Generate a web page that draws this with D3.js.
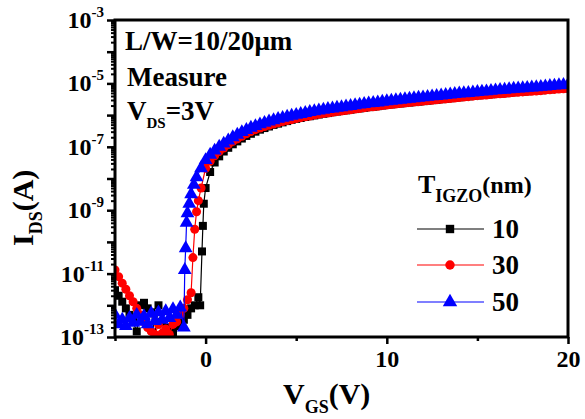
<!DOCTYPE html>
<html><head><meta charset="utf-8">
<script src="https://cdn.jsdelivr.net/npm/d3@7"></script>
<style>
html,body{margin:0;padding:0;background:#fff;}
text{font-family:"Liberation Serif","Times New Roman",serif;font-weight:bold;fill:#000;}
</style></head>
<body>
<svg id="chart" width="585" height="419"></svg>
<script>
// ---- data ----
const seriesNames = ["10", "30", "50"];
const seriesColors = ["#000000", "#ff0000", "#0000ff"];
const seriesSymbols = ["square", "circle", "triangle"];

// off / threshold region (per series)
const vgsOff10 = [-5.0,-4.8,-4.6,-4.4,-4.2,-4.0,-3.8,-3.6,-3.4,-3.2,-3.0,-2.8,-2.6,-2.4,-2.2,-2.0,-1.8,-1.6,-1.4,-1.2,-1.0,-0.8,-0.6,-0.4,-0.3,-0.2,-0.15,-0.1];
const idsOff10 = [3.0e-12,2.0e-12,1.3e-12,8.0e-13,5.0e-13,3.0e-13,1.5e-13,1.0e-12,1.2e-12,8.0e-13,6.0e-13,1.1e-13,1.0e-12,3.0e-13,1.5e-13,2.0e-13,1.3e-13,2.2e-13,2.5e-13,3.5e-13,5.0e-13,8.0e-13,1.0e-12,1.8e-12,1.0e-12,5.0e-11,3.2e-10,1.6e-9];
const vgsOff30 = [-5.0,-4.8,-4.6,-4.4,-4.2,-4.0,-3.8,-3.6,-3.4,-3.2,-3.0,-2.8,-2.6,-2.4,-2.2,-2.0,-1.8,-1.6,-1.4,-1.2,-1.0,-0.8,-0.7,-0.6,-0.5,-0.4,-0.25];
const idsOff30 = [1.3e-11,8.0e-12,5.0e-12,3.2e-12,2.0e-12,1.3e-12,8.0e-13,5.0e-13,3.0e-13,2.0e-13,1.5e-13,1.2e-13,2.5e-13,1.3e-13,1.8e-13,1.2e-13,2.5e-13,3.0e-13,5.0e-13,8.0e-13,1.5e-12,2.5e-12,3.2e-11,2.5e-10,8.9e-10,2.0e-9,5.0e-9];
const vgsOff50 = [-5.0,-4.8,-4.6,-4.4,-4.2,-4.0,-3.8,-3.6,-3.4,-3.2,-3.0,-2.8,-2.6,-2.4,-2.2,-2.0,-1.8,-1.6,-1.4,-1.2,-1.15,-1.1,-1.05,-1.0,-0.9,-0.8,-0.65,-0.5,-0.25];
const idsOff50 = [5.0e-13,2.5e-13,3.5e-13,2.2e-13,4.0e-13,2.8e-13,5.0e-13,3.0e-13,4.5e-13,2.5e-13,5.5e-13,3.2e-13,6.0e-13,3.5e-13,6.5e-13,4.0e-13,7.5e-13,5.0e-13,8.5e-13,2.0e-13,1.3e-11,6.3e-11,4.0e-10,8.0e-10,1.6e-9,3.2e-9,6.3e-9,1.1e-8,2.1e-8];

// on region (shared gate-voltage sweep)
const vgsOn = [0,0.25,0.5,0.75,1,1.25,1.5,1.75,2,2.25,2.5,2.75,3,3.25,3.5,3.75,4,4.25,4.5,4.75,5,
 5.25,5.5,5.75,6,6.25,6.5,6.75,7,7.25,7.5,7.75,8,8.25,8.5,8.75,9,9.25,9.5,9.75,10,
 10.25,10.5,10.75,11,11.25,11.5,11.75,12,12.25,12.5,12.75,13,13.25,13.5,13.75,14,14.25,14.5,14.75,15,
 15.25,15.5,15.75,16,16.25,16.5,16.75,17,17.25,17.5,17.75,18,18.25,18.5,18.75,19,19.25,19.5,19.75,20];
const idsOn10 = [5.0e-9,1.6e-8,3.2e-8,5.0e-8,7.1e-8,9.3e-8,1.2e-7,1.48e-7,1.82e-7,2.2e-7,2.57e-7,3.0e-7,3.47e-7,3.9e-7,4.37e-7,4.9e-7,5.37e-7,5.9e-7,6.46e-7,7.1e-7,7.59e-7,
 8.1e-7,8.71e-7,9.2e-7,9.77e-7,1.04e-6,1.10e-6,1.16e-6,1.23e-6,1.29e-6,1.35e-6,1.41e-6,1.48e-6,1.55e-6,1.62e-6,1.70e-6,1.78e-6,1.84e-6,1.91e-6,2.0e-6,2.09e-6,
 2.16e-6,2.24e-6,2.32e-6,2.40e-6,2.48e-6,2.57e-6,2.66e-6,2.75e-6,2.85e-6,2.95e-6,3.05e-6,3.16e-6,3.27e-6,3.39e-6,3.51e-6,3.63e-6,3.76e-6,3.89e-6,4.03e-6,4.17e-6,
 4.27e-6,4.37e-6,4.52e-6,4.68e-6,4.79e-6,4.90e-6,5.07e-6,5.25e-6,5.37e-6,5.50e-6,5.62e-6,5.75e-6,5.89e-6,6.03e-6,6.24e-6,6.46e-6,6.61e-6,6.76e-6,6.92e-6,7.08e-6];
const idsOn30 = [2.1e-8,3.5e-8,5.2e-8,7.1e-8,9.1e-8,1.17e-7,1.48e-7,1.78e-7,2.14e-7,2.57e-7,3.02e-7,3.47e-7,3.89e-7,4.37e-7,4.79e-7,5.25e-7,5.75e-7,6.3e-7,6.76e-7,7.2e-7,7.76e-7,
 8.3e-7,8.91e-7,9.4e-7,1.0e-6,1.06e-6,1.12e-6,1.17e-6,1.23e-6,1.29e-6,1.35e-6,1.41e-6,1.48e-6,1.55e-6,1.62e-6,1.70e-6,1.78e-6,1.84e-6,1.91e-6,2.0e-6,2.09e-6,
 2.16e-6,2.24e-6,2.32e-6,2.40e-6,2.48e-6,2.57e-6,2.66e-6,2.75e-6,2.85e-6,2.95e-6,3.05e-6,3.16e-6,3.25e-6,3.35e-6,3.46e-6,3.58e-6,3.70e-6,3.83e-6,3.96e-6,4.10e-6,
 4.20e-6,4.30e-6,4.45e-6,4.60e-6,4.71e-6,4.82e-6,4.98e-6,5.15e-6,5.27e-6,5.40e-6,5.52e-6,5.65e-6,5.78e-6,5.92e-6,6.11e-6,6.31e-6,6.46e-6,6.61e-6,6.76e-6,6.92e-6];
const idsOn50 = [3.8e-8,5.6e-8,7.6e-8,1.0e-7,1.26e-7,1.58e-7,2.0e-7,2.4e-7,2.9e-7,3.4e-7,4.0e-7,4.5e-7,5.1e-7,5.7e-7,6.3e-7,6.9e-7,7.6e-7,8.2e-7,8.9e-7,9.5e-7,1.02e-6,
 1.09e-6,1.17e-6,1.25e-6,1.32e-6,1.40e-6,1.48e-6,1.55e-6,1.62e-6,1.70e-6,1.78e-6,1.86e-6,1.95e-6,2.04e-6,2.14e-6,2.24e-6,2.34e-6,2.42e-6,2.51e-6,2.63e-6,2.75e-6,
 2.85e-6,2.95e-6,3.05e-6,3.16e-6,3.27e-6,3.39e-6,3.51e-6,3.63e-6,3.76e-6,3.89e-6,4.03e-6,4.17e-6,4.32e-6,4.47e-6,4.63e-6,4.79e-6,4.90e-6,5.01e-6,5.19e-6,5.37e-6,
 5.50e-6,5.62e-6,5.82e-6,6.03e-6,6.17e-6,6.31e-6,6.53e-6,6.76e-6,6.92e-6,7.08e-6,7.24e-6,7.41e-6,7.58e-6,7.76e-6,8.04e-6,8.32e-6,8.51e-6,8.71e-6,8.91e-6,9.12e-6];

const xTickValues = [0, 10, 20];
const yLabelExponents = [-3, -5, -7, -9, -11, -13];

// ---- layout ----
const svg = d3.select("#chart");
const L = 115, R = 568, T = 20, B = 337;
const x = d3.scaleLinear().domain([-5, 20]).range([L, R]);
const y = d3.scaleLog().domain([1e-13, 1e-3]).range([B, T]);

const defs = svg.append("defs");
defs.append("clipPath").attr("id", "clip").append("rect")
  .attr("x", L).attr("y", T - 2).attr("width", R - L).attr("height", B - T + 2);

// ---- data series ----
const series = [
  {v: vgsOff10.concat(vgsOn), i: idsOff10.concat(idsOn10)},
  {v: vgsOff30.concat(vgsOn), i: idsOff30.concat(idsOn30)},
  {v: vgsOff50.concat(vgsOn), i: idsOff50.concat(idsOn50)}
];
const symType = {square: d3.symbolSquare, circle: d3.symbolCircle, triangle: d3.symbolTriangle};
const symSize = {square: 64, circle: 64, triangle: 82};

const plot = svg.append("g").attr("clip-path", "url(#clip)");
series.forEach((s, k) => {
  const pts = s.v.map((v, j) => [v, s.i[j]]);
  const line = d3.line().x(d => x(d[0])).y(d => y(d[1]));
  plot.append("path").datum(pts).attr("d", line)
    .attr("fill", "none").attr("stroke", seriesColors[k]).attr("stroke-width", 1.2);
  const sym = d3.symbol().type(symType[seriesSymbols[k]]).size(symSize[seriesSymbols[k]]);
  plot.selectAll(null).data(pts).enter().append("path")
    .attr("d", sym)
    .attr("transform", d => `translate(${x(d[0])},${y(d[1])})`)
    .attr("fill", seriesColors[k]);
});

// ---- axes ----
const xAxis = d3.axisBottom(x).tickValues(xTickValues).tickSize(7).tickFormat(d3.format("d"));
const gx = svg.append("g").attr("transform", `translate(0,${B})`).call(xAxis);
gx.select(".domain").remove();
gx.selectAll(".tick line").attr("stroke-width", 2.5);
gx.selectAll(".tick text").attr("font-size", 24).attr("font-family", "Liberation Serif").attr("font-weight", "bold").attr("dy", "0.85em");
const xMinor = d3.axisBottom(x).tickValues([-5, 5, 15]).tickSize(4).tickFormat("");
const gxm = svg.append("g").attr("transform", `translate(0,${B})`).call(xMinor);
gxm.select(".domain").remove();
gxm.selectAll(".tick line").attr("stroke-width", 2.5);

// y major ticks every decade, minor 2..9
const majors = d3.range(-13, -2).map(e => Math.pow(10, e));
const minors = [];
d3.range(-13, -3).forEach(e => { for (let m = 2; m <= 9; m++) minors.push(m * Math.pow(10, e)); });
const yMaj = d3.axisLeft(y).tickValues(majors).tickSize(8).tickFormat("");
const gy = svg.append("g").attr("transform", `translate(${L},0)`).call(yMaj);
gy.select(".domain").remove();
gy.selectAll(".tick line").attr("stroke-width", 2.5);
const yMin = d3.axisLeft(y).tickValues(minors).tickSize(4).tickFormat("");
const gym = svg.append("g").attr("transform", `translate(${L},0)`).call(yMin);
gym.select(".domain").remove();
gym.selectAll(".tick line").attr("stroke-width", 2);

// y tick labels 10^n
yLabelExponents.forEach(e => {
  const t = svg.append("text").attr("x", 104).attr("y", y(Math.pow(10, e)) + 8)
    .attr("text-anchor", "end").attr("font-size", 24);
  t.append("tspan").text("10");
  t.append("tspan").attr("font-size", 15).attr("dy", -11).text(String(e));
});

// frame
svg.append("rect").attr("x", L).attr("y", T).attr("width", R - L).attr("height", B - T)
  .attr("fill", "none").attr("stroke", "#000").attr("stroke-width", 3);

// ---- annotations ----
svg.append("text").attr("x", 125).attr("y", 50).attr("font-size", 27).text("L/W=10/20\u03bcm");
svg.append("text").attr("x", 127).attr("y", 86).attr("font-size", 27).text("Measure");
const vds = svg.append("text").attr("x", 127).attr("y", 120).attr("font-size", 27);
vds.append("tspan").text("V");
vds.append("tspan").attr("font-size", 15).attr("dy", 8).text("DS");
vds.append("tspan").attr("dy", -8).text("=3V");

// axis titles
const xt = svg.append("text").attr("x", 283).attr("y", 404).attr("font-size", 30);
xt.append("tspan").text("V");
xt.append("tspan").attr("font-size", 18).attr("dy", 9).text("GS");
xt.append("tspan").attr("dy", -9).text("(V)");

const yt = svg.append("text").attr("transform", "translate(33,246) rotate(-90)").attr("font-size", 30);
yt.append("tspan").text("I");
yt.append("tspan").attr("font-size", 18).attr("dy", 9).text("DS");
yt.append("tspan").attr("dy", -9).text("(A)");

// ---- legend ----
const lt = svg.append("text").attr("x", 418).attr("y", 193).attr("font-size", 26);
lt.append("tspan").text("T");
lt.append("tspan").attr("font-size", 18).attr("dy", 9).text("IGZO");
lt.append("tspan").attr("dy", -9).attr("font-size", 24).text("(nm)");

const legY = [229, 265, 302];
seriesNames.forEach((n, k) => {
  const g = svg.append("g");
  g.append("line").attr("x1", 417).attr("x2", 484).attr("y1", legY[k]).attr("y2", legY[k])
    .attr("stroke", seriesColors[k]).attr("stroke-width", 1.2);
  g.append("path").attr("d", d3.symbol().type(symType[seriesSymbols[k]]).size(symSize[seriesSymbols[k]] * 1.1)())
    .attr("transform", `translate(450,${legY[k]})`).attr("fill", seriesColors[k]);
  g.append("text").attr("x", 492).attr("y", legY[k] + 9).attr("font-size", 27).text(n);
});
</script>
</body></html>
